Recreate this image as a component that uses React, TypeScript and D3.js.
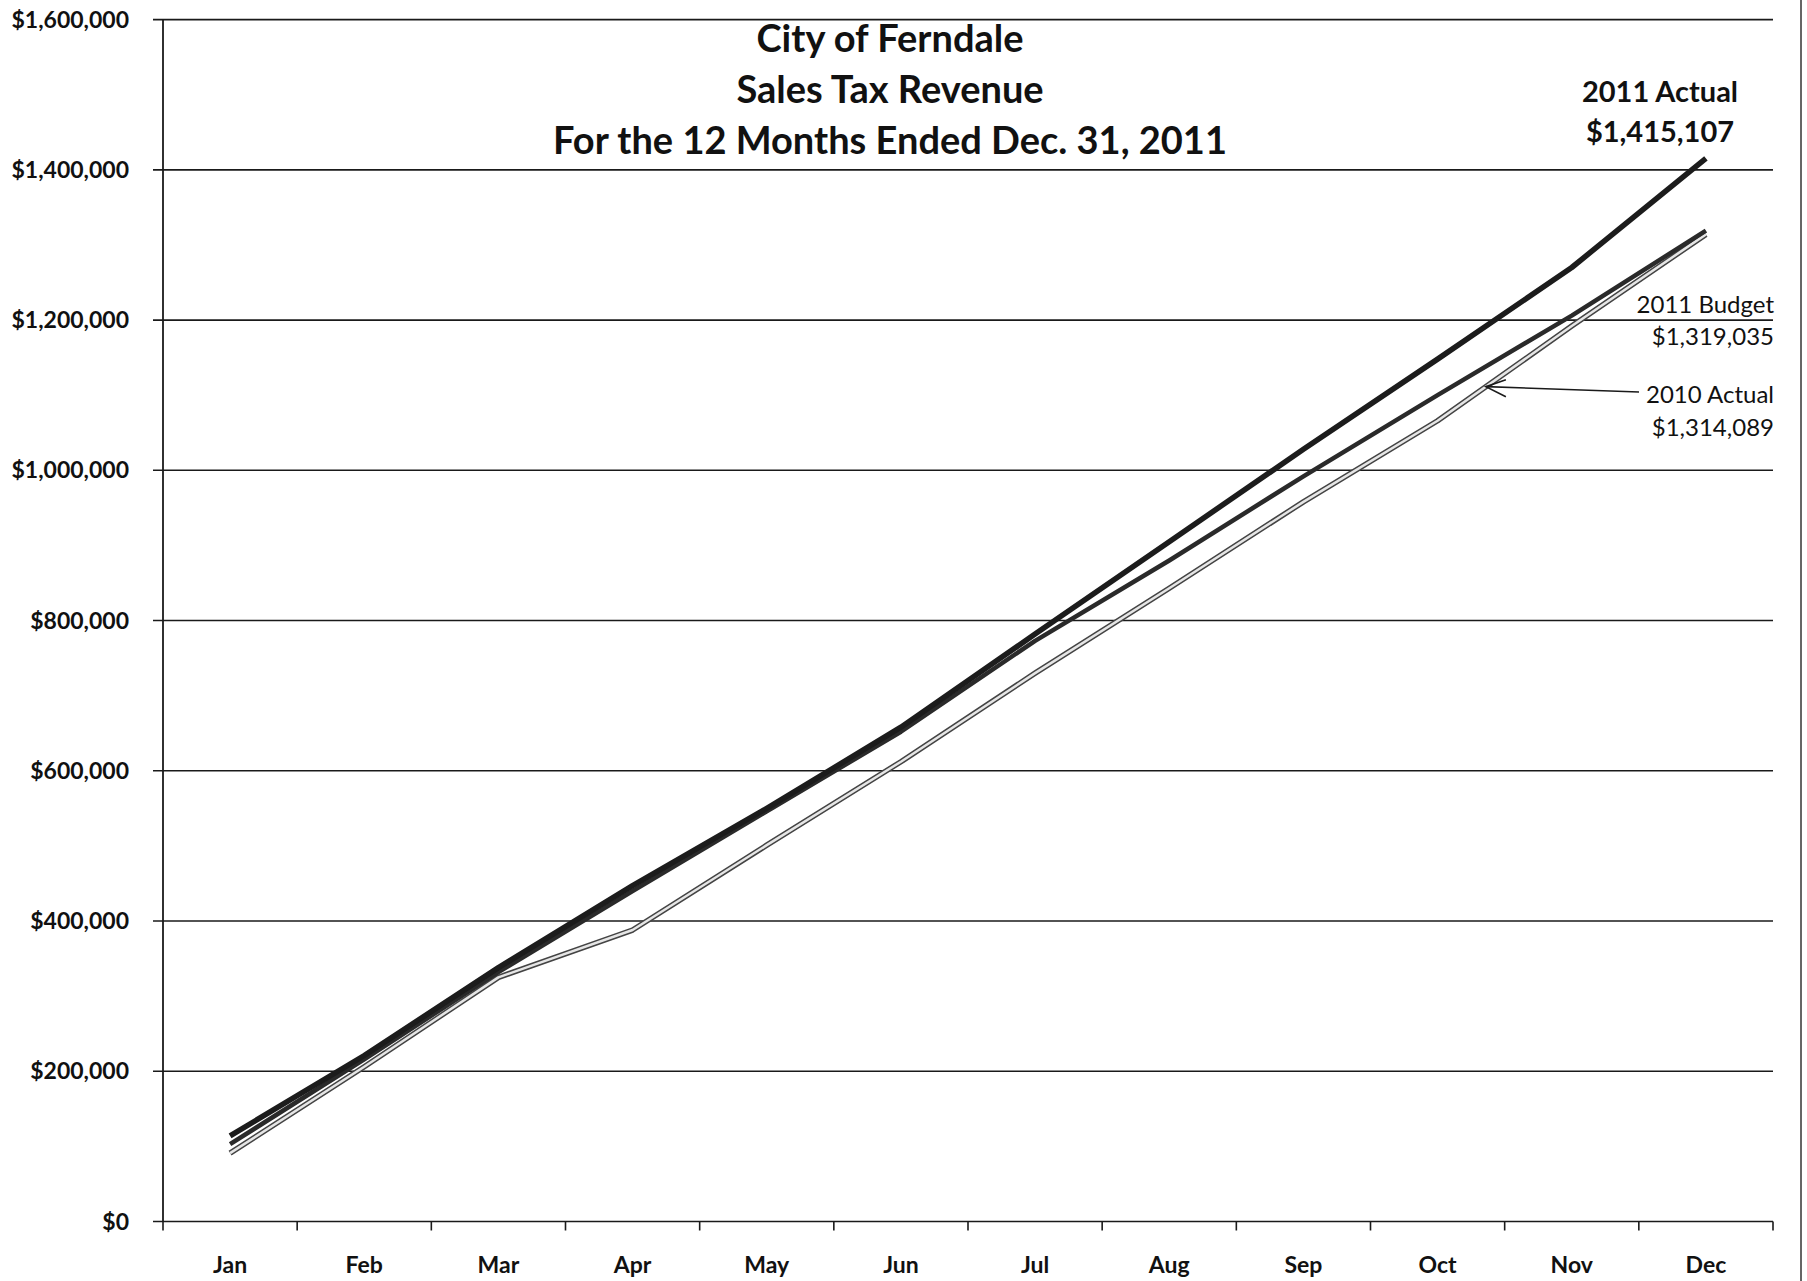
import React from "react";
import * as d3 from "d3";

// values
const months = ["Jan", "Feb", "Mar", "Apr", "May", "Jun", "Jul", "Aug", "Sep", "Oct", "Nov", "Dec"];
const actual2011 = [114000, 221000, 338000, 447000, 550000, 658000, 782000, 905000, 1028000, 1148000, 1270000, 1415107];
const budget2011 = [103000, 216000, 332000, 440000, 546000, 652000, 773000, 880000, 992000, 1100000, 1206000, 1319035];
const actual2010 = [91000, 206000, 325000, 388000, 501000, 612000, 730000, 843000, 958000, 1066000, 1192000, 1314089];
const yTicks = [0, 200000, 400000, 600000, 800000, 1000000, 1200000, 1400000, 1600000];
const titleLines = ["City of Ferndale", "Sales Tax Revenue", "For the 12 Months Ended Dec. 31, 2011"];

const W = 1807;
const H = 1281;
const font = "Lato, 'Open Sans', sans-serif";

export default function App() {
    const x = d3.scaleBand<string>().domain(months).range([163, 1773]);
    const y = d3.scaleLinear().domain([0, 1600000]).range([1221.5, 19.6]);
    const cx = (m: string) => (x(m) ?? 0) + x.bandwidth() / 2;
    const fmt = d3.format("$,");

    const line = d3.line<number>()
        .x((_, i) => cx(months[i]))
        .y(d => y(d));

    // tick marks on the x axis sit on the band edges
    const edges = [...months.map(m => x(m) ?? 0), x.range()[1]];

    // arrow for the 2010 label points to the 2010 line between Oct and Nov
    const t = 0.36;
    const tipX = cx("Oct") + t * (cx("Nov") - cx("Oct"));
    const tipY = y(actual2010[9] + t * (actual2010[10] - actual2010[9]));

    return (
        <svg width={W} height={H} style={{ position: "absolute", left: 0, top: 0, background: "#fff" }}>
            {/* gridlines */}
            {yTicks.map(v => (
                <line key={v} x1={153} x2={1773} y1={y(v)} y2={y(v)} stroke="#1a1a1a" strokeWidth={1.6} />
            ))}
            {/* y axis */}
            <line x1={163} x2={163} y1={y(1600000)} y2={y(0)} stroke="#1a1a1a" strokeWidth={1.8} />
            {/* x ticks */}
            {edges.map((e, i) => (
                <line key={i} x1={e} x2={e} y1={y(0)} y2={y(0) + 9} stroke="#1a1a1a" strokeWidth={1.6} />
            ))}
            {/* page border on the right */}
            <line x1={1801} x2={1801} y1={0} y2={1281} stroke="#333" strokeWidth={1.5} />

            {/* y labels */}
            {yTicks.map(v => (
                <text key={v} x={129} y={y(v) + 8} textAnchor="end" fontFamily={font} fontWeight="bold"
                    fontSize={23} fill="#111">{fmt(v)}</text>
            ))}
            {/* x labels */}
            {months.map(m => (
                <text key={m} x={cx(m)} y={1273} textAnchor="middle" fontFamily={font} fontWeight="bold"
                    fontSize={23} fill="#111">{m}</text>
            ))}

            {/* series */}
            <path d={line(actual2010) ?? ""} fill="none" stroke="#444" strokeWidth={5.5} strokeLinejoin="round" />
            <path d={line(actual2010) ?? ""} fill="none" stroke="#e6e6e6" strokeWidth={2.5} strokeLinejoin="round" />
            <path d={line(budget2011) ?? ""} fill="none" stroke="#2a2a2a" strokeWidth={4.5} strokeLinejoin="round" />
            <path d={line(actual2011) ?? ""} fill="none" stroke="#1c1c1c" strokeWidth={5.5} strokeLinejoin="round" />

            {/* title */}
            {titleLines.map((s, i) => (
                <text key={s} x={890} y={52 + i * 51} textAnchor="middle" fontFamily={font} fontWeight="bold"
                    fontSize={38} fill="#111">{s}</text>
            ))}

            {/* end labels */}
            <text x={1660} y={102} textAnchor="middle" fontFamily={font} fontWeight="bold" fontSize={29} fill="#111">2011 Actual</text>
            <text x={1660} y={142} textAnchor="middle" fontFamily={font} fontWeight="bold" fontSize={29} fill="#111">{fmt(actual2011[11])}</text>
            <text x={1774} y={313} textAnchor="end" fontFamily={font} fontSize={24} fill="#111">2011 Budget</text>
            <text x={1774} y={345} textAnchor="end" fontFamily={font} fontSize={24} fill="#111">{fmt(budget2011[11])}</text>
            <text x={1774} y={403} textAnchor="end" fontFamily={font} fontSize={24} fill="#111">2010 Actual</text>
            <text x={1774} y={436} textAnchor="end" fontFamily={font} fontSize={24} fill="#111">{fmt(actual2010[11])}</text>

            {/* arrow */}
            <line x1={1639} x2={tipX} y1={392} y2={tipY} stroke="#1a1a1a" strokeWidth={1.6} />
            <polyline points={`${tipX + 20},${tipY - 7} ${tipX},${tipY} ${tipX + 20},${tipY + 10}`}
                fill="none" stroke="#1a1a1a" strokeWidth={1.6} />
        </svg>
    );
}
